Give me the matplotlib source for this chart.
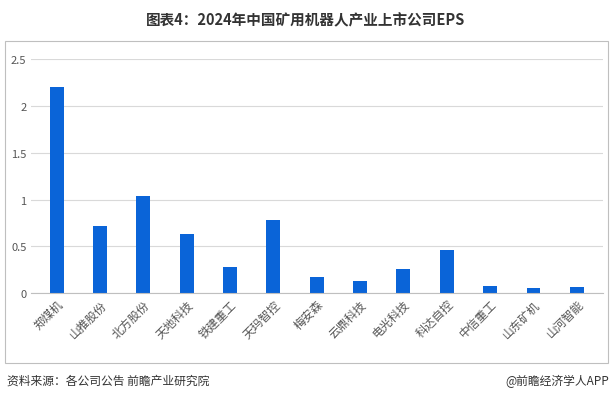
import matplotlib
matplotlib.use("Agg")
import matplotlib.pyplot as plt
from matplotlib.patches import Rectangle

plt.rcParams['font.family'] = ['Noto Sans CJK SC', 'DejaVu Sans']

categories = ["郑煤机", "山推股份", "北方股份", "天地科技", "铁建重工", "天玛智控", "梅安森",
              "云鼎科技", "电光科技", "科达自控", "中信重工", "山东矿机", "山河智能"]
values = [2.2, 0.72, 1.04, 0.63, 0.28, 0.78, 0.17, 0.13, 0.26, 0.46, 0.08, 0.06, 0.07]
yticks = [0, 0.5, 1, 1.5, 2, 2.5]
ytick_labels = ["0", "0.5", "1", "1.5", "2", "2.5"]

fig = plt.figure(figsize=(6.12, 4.02), dpi=100)
fig.patches.append(Rectangle((0.008, 0.095), 0.985, 0.8, transform=fig.transFigure,
                             fill=False, edgecolor="#bfbfbf", lw=0.8))
ax = fig.add_axes([0.05, 0.268, 0.935, 0.583])
x = range(len(categories))
ax.bar(x, values, width=0.32, color="#0a64d8")
ax.set_xlim(-0.6, len(categories) - 0.4)
ax.set_ylim(0, 2.5)
ax.set_yticks(yticks)
ax.set_yticklabels(ytick_labels, fontsize=8, color="#555555")
ax.set_xticks(list(x))
ax.set_xticklabels(categories, rotation=45, ha="right", rotation_mode="anchor", fontsize=8.5, color="#555555")
ax.grid(axis="y", color="#d9d9d9", lw=0.8)
ax.set_axisbelow(True)
for s in ["top", "right", "left"]:
    ax.spines[s].set_visible(False)
ax.spines["bottom"].set_color("#bfbfbf")
ax.tick_params(length=0, pad=3)

fig.text(0.5, 0.95, "图表4：2024年中国矿用机器人产业上市公司EPS", ha="center", va="center",
         fontsize=10.5, fontweight="bold", color="#333333")
fig.text(0.012, 0.052, "资料来源：各公司公告 前瞻产业研究院", ha="left", va="center", fontsize=8.5, color="#333333")
fig.text(0.995, 0.052, "@前瞻经济学人APP", ha="right", va="center", fontsize=8.5, color="#333333")
fig.savefig("out.png", dpi=100)
